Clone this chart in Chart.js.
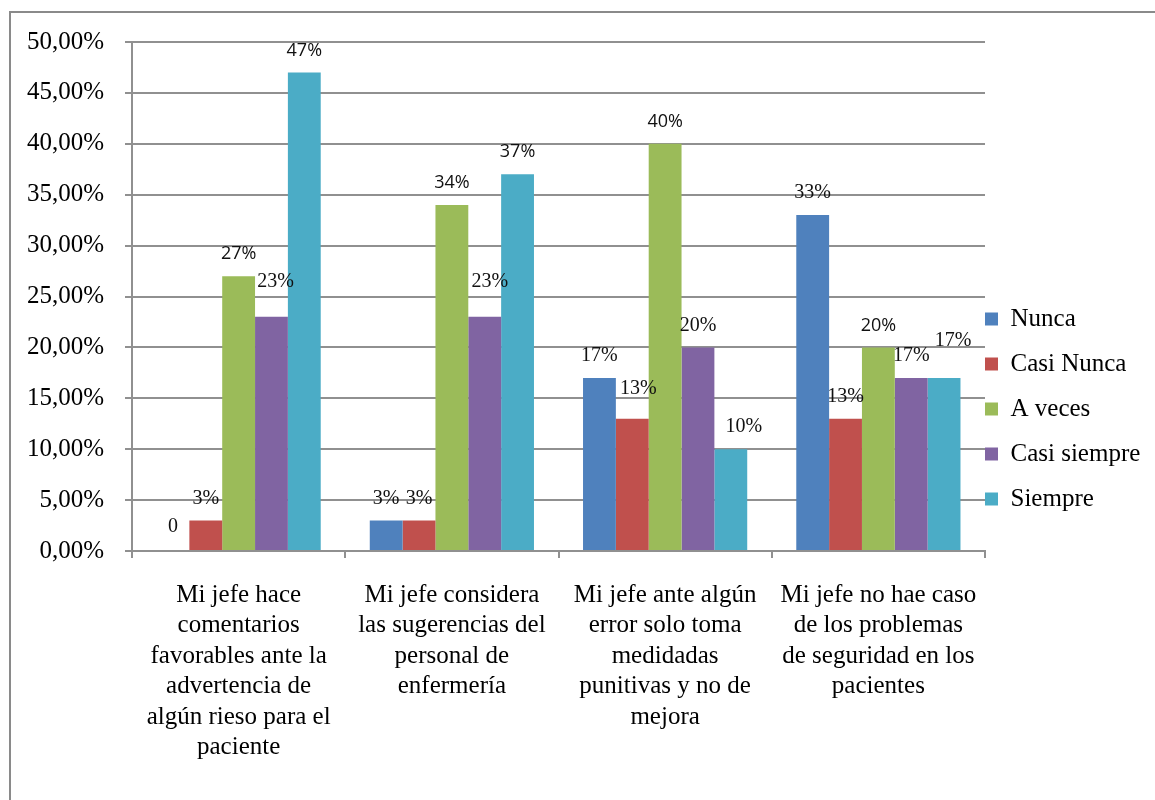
<!DOCTYPE html>
<html>
<head>
<meta charset="utf-8">
<script src="https://cdn.jsdelivr.net/npm/chart.js@4/dist/chart.umd.min.js"></script>
<style>
  html, body { margin: 0; padding: 0; background: #fff; overflow: hidden; width: 1155px; height: 800px; }
  #frame { position: absolute; left: 9px; top: 11px; width: 1200px; height: 900px; border: 2px solid #8a8a8a; box-sizing: border-box; }
  #c { position: absolute; left: 0; top: 0; }
  .pre1 { font-family: "Liberation Serif"; position: absolute; left: -999px; }
  .pre2 { font-family: "Open Sans"; position: absolute; left: -999px; }
</style>
</head>
<body>
<span class="pre1">Aa 0%</span><span class="pre2">Aa 0%</span>
<div id="frame"></div>
<canvas id="c" width="1155" height="800"></canvas>
<script>
// ---- data ----
const categories = [
  ['Mi jefe hace', 'comentarios', 'favorables ante la', 'advertencia de', 'algún rieso para el', 'paciente'],
  ['Mi jefe considera', 'las sugerencias del', 'personal de', 'enfermería'],
  ['Mi jefe ante algún', 'error solo toma', 'medidadas', 'punitivas y no de', 'mejora'],
  ['Mi jefe no hae caso', 'de los problemas', 'de seguridad en los', 'pacientes']
];
const seriesNames = ['Nunca', 'Casi Nunca', 'A veces', 'Casi siempre', 'Siempre'];
const nunca       = [0, 3, 17, 33];
const casiNunca   = [3, 3, 13, 13];
const aVeces      = [27, 34, 40, 20];
const casiSiempre = [23, 23, 20, 17];
const siempre     = [47, 37, 10, 17];
const yMin = 0, yMax = 50, yStep = 5;

// ---- styles ----
const colors = ['#4F81BD', '#C0504D', '#9BBB59', '#8064A2', '#4BACC6'];
const gridColor = '#909090';
const serif = '"Liberation Serif", "DejaVu Serif", serif';
const sans = '"Open Sans", "Noto Sans", sans-serif';
// data label fine placement (dataset-index keys), pixels
const labelNudges = { '3-0': [4, -13], '3-1': [5, -13], '1-2': [6, -8], '4-3': [9, -15], '4-2': [13, 0], '0-0': [0, -2] };
const sansLabels = new Set(['2-0', '2-1', '2-2', '2-3', '4-0', '4-1']);

const seriesValues = [nunca, casiNunca, aVeces, casiSiempre, siempre];

const dataLabels = {
  id: 'dataLabels',
  afterDatasetsDraw(chart) {
    const ctx = chart.ctx;
    ctx.save();
    ctx.textAlign = 'center';
    ctx.textBaseline = 'middle';
    ctx.fillStyle = '#111';
    chart.data.datasets.forEach((ds, di) => {
      const meta = chart.getDatasetMeta(di);
      meta.data.forEach((bar, i) => {
        const key = di + '-' + i;
        const v = ds.data[i];
        const txt = v === 0 ? '0' : v + '%';
        const n = labelNudges[key] || [0, 0];
        ctx.font = sansLabels.has(key) ? '18px ' + sans : '20px ' + serif;
        ctx.fillText(txt, bar.x + n[0], bar.y - 22 + n[1]);
      });
    });
    ctx.restore();
  }
};

const legendShift = {
  id: 'legendShift',
  afterLayout(chart) {
    const lg = chart.legend;
    const pad = lg.options.labels.padding;
    lg.left = chart.chartArea.right - pad;
    lg.right = chart.width;
    lg.width = lg.right - lg.left;
  }
};

function draw() {
  new Chart(document.getElementById('c'), {
    type: 'bar',
    data: {
      labels: categories,
      datasets: seriesNames.map((name, k) => ({
        label: name,
        data: seriesValues[k],
        backgroundColor: colors[k],
        borderWidth: 0,
        categoryPercentage: 0.77,
        barPercentage: 1.0
      }))
    },
    options: {
      responsive: false,
      animation: false,
      devicePixelRatio: 1,
      layout: { padding: { left: 0, top: 42, right: 0, bottom: 24 } },
      plugins: {
        tooltip: { enabled: false },
        title: { display: false },
        legend: {
          position: 'right',
          align: 'center',
          maxWidth: 170,
          labels: {
            boxWidth: 13,
            boxHeight: 13,
            padding: 20,
            color: '#000',
            font: { family: serif, size: 25, lineHeight: 1 }
          }
        }
      },
      scales: {
        x: {
          afterFit(scale) { scale.height = 225; },
          grid: { display: true, drawOnChartArea: false, drawTicks: true, tickLength: 7, color: gridColor, lineWidth: 2, offset: true },
          border: { display: true, color: gridColor, width: 2 },
          ticks: {
            color: '#000',
            autoSkip: false,
            maxRotation: 0,
            minRotation: 0,
            padding: 22,
            font: { family: serif, size: 25, lineHeight: 1.22 }
          }
        },
        y: {
          min: yMin,
          max: yMax,
          afterFit(scale) { scale.width = 132; },
          grid: { color: gridColor, lineWidth: 2, drawTicks: true, tickLength: 7 },
          border: { display: true, color: gridColor, width: 2 },
          ticks: {
            stepSize: yStep,
            color: '#000',
            padding: 21,
            font: { family: serif, size: 25 },
            callback: (v) => v.toFixed(2).replace('.', ',') + '%'
          }
        }
      }
    },
    plugins: [dataLabels, legendShift]
  });
}

if (document.fonts && document.fonts.load) {
  Promise.all([
    document.fonts.load('25px "Liberation Serif"'),
    document.fonts.load('18px "Open Sans"')
  ]).then(draw, draw);
} else {
  draw();
}
</script>
</body>
</html>
